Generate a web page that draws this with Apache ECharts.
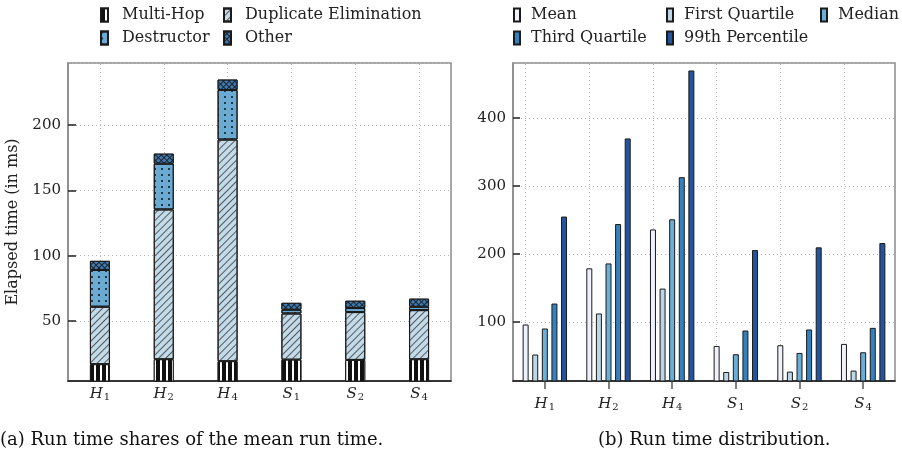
<!DOCTYPE html>
<html>
<head>
<meta charset="utf-8">
<script src="https://cdn.jsdelivr.net/npm/echarts@6/dist/echarts.min.js"></script>
<style>html,body{margin:0;padding:0;background:#fff;}#c{width:902px;height:463px;}</style>
</head>
<body>
<div id="c"></div>
<script>
const categories = ['H1', 'H2', 'H4', 'S1', 'S2', 'S4'];
// (a) stacked shares of mean run time (ms)
const multiHop = [16.7, 20.5, 19.0, 20.2, 20.0, 20.5];
const duplicateElimination = [44.1, 114.9, 170.0, 35.4, 36.7, 37.7];
const destructor = [28.2, 35.1, 38.0, 2.9, 3.1, 2.6];
const other = [7.0, 7.7, 8.0, 5.3, 5.6, 6.2];
// (b) run time distribution (ms)
const mean = [96.1, 178.8, 236.0, 64.6, 65.6, 67.6];
const firstQuartile = [52.0, 112.4, 149.0, 26.3, 26.8, 28.3];
const median = [90.3, 186.0, 251.0, 52.4, 54.3, 55.3];
const thirdQuartile = [127.0, 244.0, 313.0, 87.3, 88.8, 91.2];
const percentile99 = [255.0, 370.0, 470.0, 205.7, 209.7, 216.0];
// tick labels
const leftTicks = [50, 100, 150, 200];
const rightTicks = [100, 200, 300, 400];

const FONT = "DejaVu Serif";
const TXT = '#222';

function catLabel(v) {
  return '{i|' + v[0] + '}{s|' + v.slice(1) + '}';
}
const catRich = {
  i: { fontFamily: FONT, fontStyle: 'italic', fontSize: 15, color: TXT, lineHeight: 18 },
  s: { fontFamily: FONT, fontSize: 10, color: TXT, lineHeight: 11, padding: [7, 0, 0, 1] }
};
function tickFmt(list) {
  return function (v) { return list.indexOf(Math.round(v)) >= 0 && Math.abs(v - Math.round(v)) < 1e-6 ? String(Math.round(v)) : ''; };
}
const gridLine = { show: true, lineStyle: { color: '#b5b5b5', type: [1, 3], width: 1 } };
const vLines = {
  z: 1, silent: true, symbol: 'none', label: { show: false },
  lineStyle: { color: '#b5b5b5', type: [1, 3], width: 1 },
  data: categories.map(c => ({ xAxis: c }))
};
const border = { borderColor: '#1a1a1a', borderWidth: 1 };
function legendText(pad) {
  return { fontFamily: FONT, fontSize: 16, color: TXT, padding: [0, 0, 0, pad] };
}

const option = {
  animation: false,
  backgroundColor: '#fff',
  textStyle: { fontFamily: FONT },
  grid: [
    { left: 68, right: 451, top: 63, bottom: 82, show: true, borderColor: '#8a8a8a', borderWidth: 1.5, backgroundColor: 'transparent' },
    { left: 513, right: 7, top: 63, bottom: 82, show: true, borderColor: '#8a8a8a', borderWidth: 1.5, backgroundColor: 'transparent' }
  ],
  xAxis: [
    {
      type: 'category', gridIndex: 0, data: categories,
      axisLine: { lineStyle: { color: '#111', width: 1.5 } },
      axisTick: { show: false },
      axisLabel: { interval: 0, margin: 4, formatter: catLabel, rich: catRich },
      splitLine: { show: false }
    },
    {
      type: 'category', gridIndex: 1, data: categories,
      axisLine: { lineStyle: { color: '#111', width: 1.5 } },
      axisTick: { show: true, interval: 0, alignWithLabel: true, length: 8, lineStyle: { color: '#555', width: 1.5 } },
      axisLabel: { interval: 0, margin: 14, formatter: catLabel, rich: catRich },
      splitLine: { show: false }
    }
  ],
  yAxis: [
    {
      type: 'value', gridIndex: 0, min: 3.85, max: 247.7, splitNumber: 5,
      name: 'Elapsed time (in ms)', nameLocation: 'middle', nameGap: 47,
      nameTextStyle: { fontFamily: FONT, fontSize: 16, color: TXT },
      axisLine: { show: true, lineStyle: { color: '#8a8a8a', width: 1.5 } },
      axisTick: { show: true, inside: true, length: 8, lineStyle: { color: '#222', width: 1.5 } },
      axisLabel: { fontFamily: FONT, fontSize: 15, color: TXT, margin: 7, showMinLabel: false, showMaxLabel: false, formatter: tickFmt(leftTicks) },
      splitLine: gridLine
    },
    {
      type: 'value', gridIndex: 1, min: 13, max: 481, splitNumber: 5,
      axisLine: { show: true, lineStyle: { color: '#8a8a8a', width: 1.5 } },
      axisTick: { show: true, inside: true, length: 7, lineStyle: { color: '#222', width: 1.5 } },
      axisLabel: { fontFamily: FONT, fontSize: 15, color: TXT, margin: 7, showMinLabel: false, showMaxLabel: false, formatter: tickFmt(rightTicks) },
      splitLine: gridLine
    }
  ],
  legend: [
    { orient: 'vertical', left: 95, top: 2, icon: 'rect', itemWidth: 7, itemHeight: 13, itemGap: 7, data: ['Multi-Hop', 'Destructor'], textStyle: legendText(9) },
    { orient: 'vertical', left: 218, top: 2, icon: 'rect', itemWidth: 7, itemHeight: 13, itemGap: 7, data: ['Duplicate Elimination', 'Other'], textStyle: legendText(9) },
    { orient: 'vertical', left: 508, top: 2, icon: 'rect', itemWidth: 6, itemHeight: 13, itemGap: 7, data: ['Mean', 'Third Quartile'], textStyle: legendText(6) },
    { orient: 'vertical', left: 661, top: 2, icon: 'rect', itemWidth: 6, itemHeight: 13, itemGap: 7, data: ['First Quartile', '99th Percentile'], textStyle: legendText(6) },
    { orient: 'vertical', left: 815, top: 2, icon: 'rect', itemWidth: 6, itemHeight: 13, itemGap: 7, data: ['Median'], textStyle: legendText(6) }
  ],
  graphic: [
    { type: 'text', left: 0, top: 431, style: { text: '(a) Run time shares of the mean run time.', fontFamily: FONT, fontSize: 18, fill: '#111' } },
    { type: 'text', left: 598, top: 431, style: { text: '(b) Run time distribution.', fontFamily: FONT, fontSize: 18, fill: '#111' } }
  ],
  series: [
    { name: 'Multi-Hop', type: 'bar', stack: 'a', xAxisIndex: 0, yAxisIndex: 0, barWidth: 20, z: 2, clip: true,
      data: multiHop,
      itemStyle: Object.assign({ color: '#111',
        decal: { symbol: 'rect', symbolSize: 1, color: '#fff', dashArrayX: [1, 0], dashArrayY: [1.1, 3.6], rotation: Math.PI / 2 } }, border),
      markLine: vLines },
    { name: 'Duplicate Elimination', type: 'bar', stack: 'a', xAxisIndex: 0, yAxisIndex: 0, barWidth: 20, z: 2, clip: true,
      data: duplicateElimination,
      itemStyle: Object.assign({ color: '#c2dbea',
        decal: { symbol: 'rect', symbolSize: 1, color: '#555', dashArrayX: [1, 0], dashArrayY: [1, 3.2], rotation: -Math.PI / 4 } }, border) },
    { name: 'Destructor', type: 'bar', stack: 'a', xAxisIndex: 0, yAxisIndex: 0, barWidth: 20, z: 2, clip: true,
      data: destructor,
      itemStyle: Object.assign({ color: '#6aaad3',
        decal: { symbol: 'circle', symbolSize: 1, color: '#111', dashArrayX: [2, 4.5], dashArrayY: [2, 3.7], rotation: 0 } }, border) },
    { name: 'Other', type: 'bar', stack: 'a', xAxisIndex: 0, yAxisIndex: 0, barWidth: 20, z: 2, clip: true,
      data: other,
      itemStyle: Object.assign({ color: '#222',
        decal: { symbol: 'rect', symbolSize: 1, color: '#3a7dbb', dashArrayX: [3, 0.8], dashArrayY: [3, 0.8], rotation: Math.PI / 4 } }, border) },

    { name: 'Mean', type: 'bar', xAxisIndex: 1, yAxisIndex: 1, barWidth: 6, barGap: '60%', z: 2, clip: true,
      data: mean, itemStyle: Object.assign({ color: '#eff2fb' }, border), markLine: vLines },
    { name: 'First Quartile', type: 'bar', xAxisIndex: 1, yAxisIndex: 1, barWidth: 6, barGap: '60%', z: 2, clip: true,
      data: firstQuartile, itemStyle: Object.assign({ color: '#bdd7e7' }, border) },
    { name: 'Median', type: 'bar', xAxisIndex: 1, yAxisIndex: 1, barWidth: 6, barGap: '60%', z: 2, clip: true,
      data: median, itemStyle: Object.assign({ color: '#6baed6' }, border) },
    { name: 'Third Quartile', type: 'bar', xAxisIndex: 1, yAxisIndex: 1, barWidth: 6, barGap: '60%', z: 2, clip: true,
      data: thirdQuartile, itemStyle: Object.assign({ color: '#3481bf' }, border) },
    { name: '99th Percentile', type: 'bar', xAxisIndex: 1, yAxisIndex: 1, barWidth: 6, barGap: '60%', z: 2, clip: true,
      data: percentile99, itemStyle: Object.assign({ color: '#24549e' }, border) }
  ]
};
const chart = echarts.init(document.getElementById('c'), null, { renderer: 'canvas' });
chart.setOption(option);
</script>
</body>
</html>
